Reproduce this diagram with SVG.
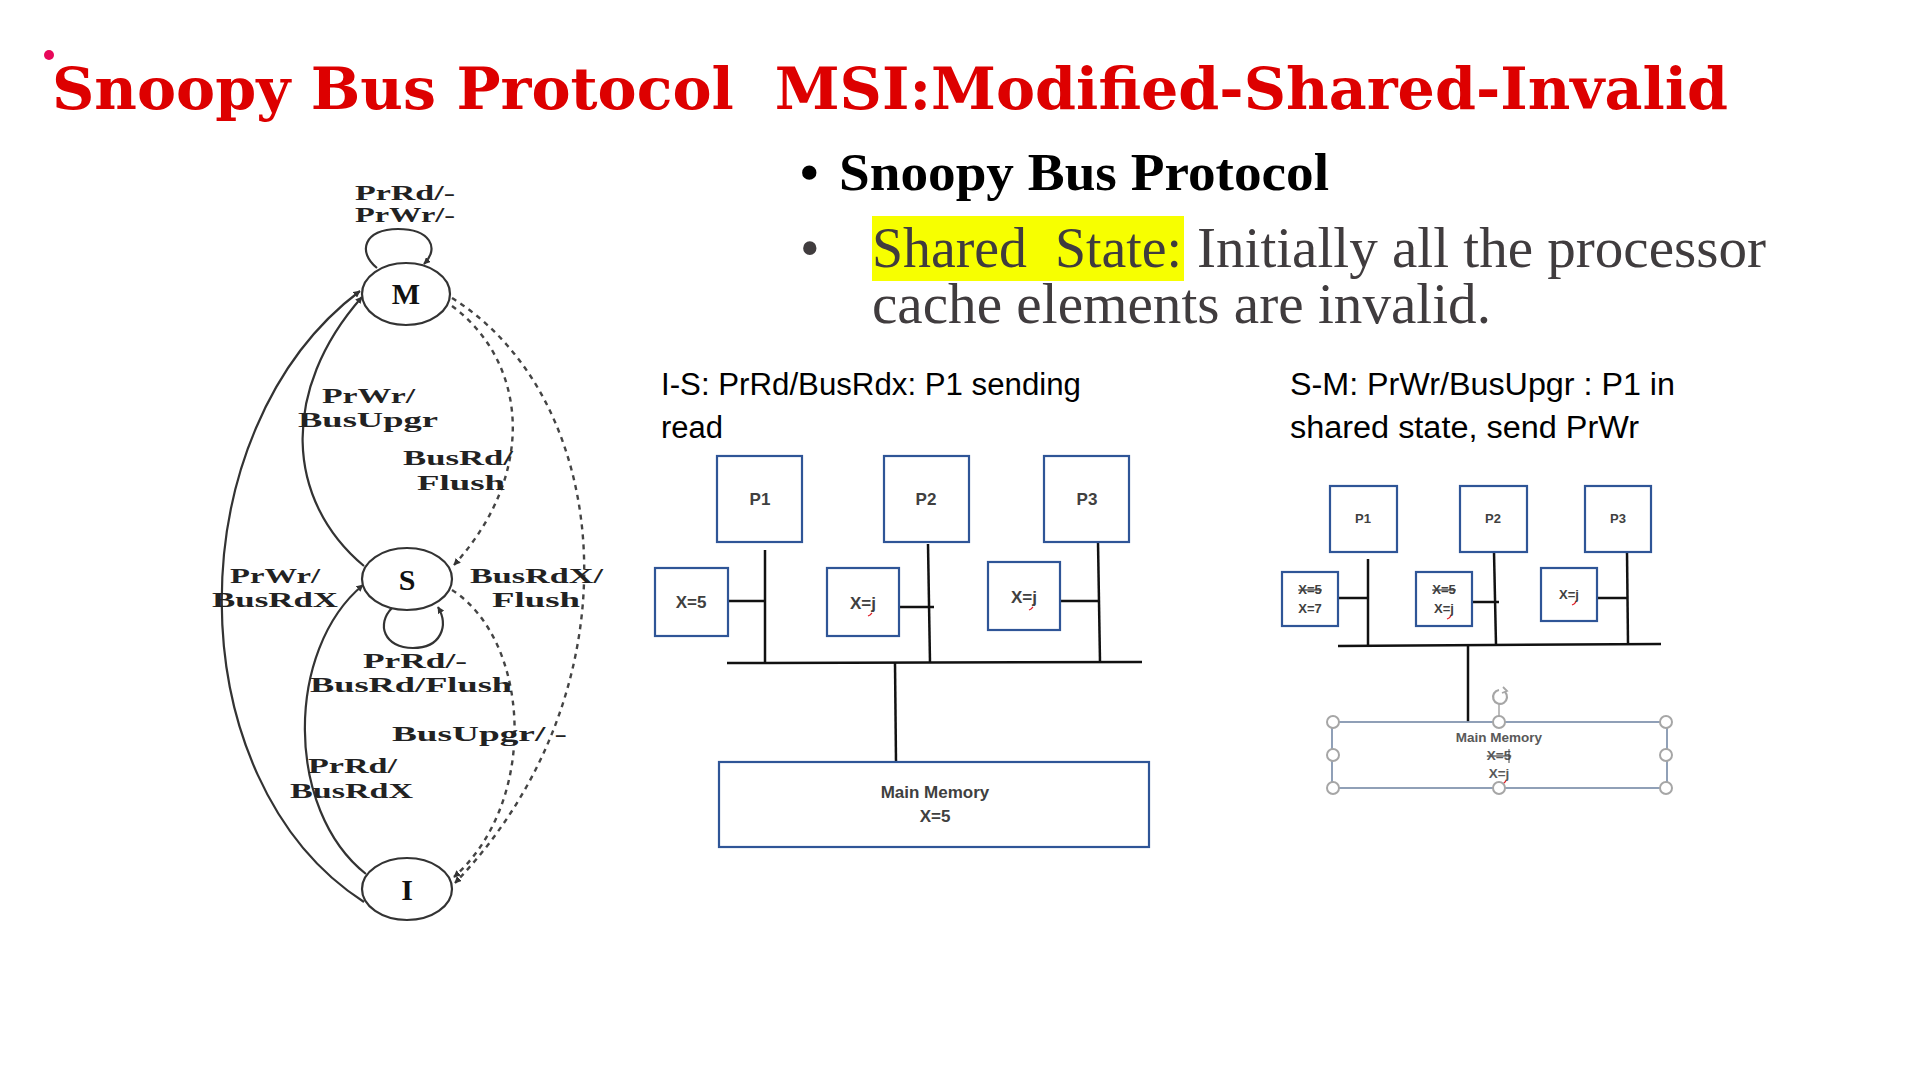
<svg xmlns="http://www.w3.org/2000/svg" width="1920" height="1080" viewBox="0 0 1920 1080">
<defs>
<style>
.title{font-family:"DejaVu Serif","Liberation Serif",serif;font-weight:bold;fill:#dd0000;font-size:58px}
.b1{font-family:"Liberation Serif",serif;font-weight:bold;fill:#000;font-size:53px}
.b2{font-family:"Liberation Serif",serif;fill:#403c3e;font-size:56px}
.st{fill:none;stroke:#333;stroke-width:2.2}
.sl{font-family:"Liberation Serif",serif;font-weight:bold;fill:#222;font-size:22px}
.sn{font-family:"Liberation Serif",serif;font-weight:bold;fill:#111;font-size:30px;text-anchor:middle}
.solid{fill:none;stroke:#333;stroke-width:2.2}
.dash{fill:none;stroke:#444;stroke-width:2.4;stroke-dasharray:5 5}
.cap{font-family:"Liberation Sans",sans-serif;fill:#000;font-size:31px}
.box{fill:#fff;stroke:#2f5597;stroke-width:2.2}
.ln{stroke:#111;stroke-width:2.5;fill:none}
.bt{font-family:"Liberation Sans",sans-serif;font-weight:bold;fill:#404040;text-anchor:middle}
.mt{font-family:"Liberation Sans",sans-serif;font-weight:bold;fill:#595959;text-anchor:middle}
.hd{fill:#fff;stroke:#a6a6a6;stroke-width:2}
.sq{fill:none;stroke:#e0202a;stroke-width:1.2}
</style>
<marker id="ah" viewBox="0 0 10 10" refX="9" refY="5" markerWidth="7" markerHeight="7" orient="auto-start-reverse" markerUnits="userSpaceOnUse">
<path d="M0,0 L10,5 L0,10 z" fill="#333"/>
</marker>
</defs>
<rect width="1920" height="1080" fill="#fff"/>

<g id="title">
<circle cx="49" cy="55" r="5" fill="#e8085a"/>
<text class="title" x="52" y="109" textLength="1676" lengthAdjust="spacingAndGlyphs" xml:space="preserve">Snoopy Bus Protocol  MSI:Modified-Shared-Invalid</text>
</g>

<g id="bullets">
<text class="b1" x="800" y="190">•</text>
<text class="b1" x="839" y="190" textLength="490" lengthAdjust="spacingAndGlyphs">Snoopy Bus Protocol</text>
<text class="b2" x="800" y="267" font-size="44">•</text>
<rect x="872" y="216" width="312" height="65" fill="#f7ff00"/>
<text class="b2" x="872" y="267" textLength="310" lengthAdjust="spacingAndGlyphs" xml:space="preserve">Shared  State:</text>
<text class="b2" x="1197" y="267" textLength="569" lengthAdjust="spacingAndGlyphs">Initially all the processor</text>
<text class="b2" x="872" y="323" textLength="619" lengthAdjust="spacingAndGlyphs">cache elements are invalid.</text>
</g>

<g id="state-M">
<ellipse class="st" cx="406" cy="294" rx="44" ry="31"/>
<text class="sn" x="406" y="304">M</text>
</g>
<g id="state-S">
<ellipse class="st" cx="407" cy="579" rx="45" ry="31"/>
<text class="sn" x="407" y="590">S</text>
</g>
<g id="state-I">
<ellipse class="st" cx="407" cy="889" rx="45" ry="31"/>
<text class="sn" x="407" y="900">I</text>
</g>

<g id="connectors">
<path class="solid" d="M377 268 C357 252 364 229 398 229 C430 229 440 248 424 264" marker-end="url(#ah)"/>
<path class="solid" d="M392 608 C376 624 384 648 413 648 C441 648 449 626 438 607" marker-end="url(#ah)"/>
<path class="solid" d="M364 902 C175 780 175 430 360 291" marker-end="url(#ah)"/>
<path class="solid" d="M364 566 C285 500 280 390 362 297" marker-end="url(#ah)"/>
<path class="solid" d="M366 874 C285 810 285 650 363 585" marker-end="url(#ah)"/>
<path class="dash" d="M452 306 C525 360 540 470 454 565" marker-end="url(#ah)"/>
<path class="dash" d="M452 298 C615 400 640 690 455 883" marker-end="url(#ah)"/>
<path class="dash" d="M452 590 C530 640 540 800 454 877" marker-end="url(#ah)"/>
</g>

<g id="transition-labels">
<text class="sl" x="355" y="200" font-size="20" textLength="100" lengthAdjust="spacingAndGlyphs">PrRd/-</text>
<text class="sl" x="355" y="222" font-size="20" textLength="100" lengthAdjust="spacingAndGlyphs">PrWr/-</text>
<text class="sl" x="322" y="403" textLength="93" lengthAdjust="spacingAndGlyphs">PrWr/</text>
<text class="sl" x="298" y="427" textLength="140" lengthAdjust="spacingAndGlyphs">BusUpgr</text>
<text class="sl" x="403" y="465" textLength="110" lengthAdjust="spacingAndGlyphs">BusRd/</text>
<text class="sl" x="417" y="490" textLength="88" lengthAdjust="spacingAndGlyphs">Flush</text>
<text class="sl" x="230" y="583" textLength="90" lengthAdjust="spacingAndGlyphs">PrWr/</text>
<text class="sl" x="212" y="607" textLength="126" lengthAdjust="spacingAndGlyphs">BusRdX</text>
<text class="sl" x="470" y="583" textLength="133" lengthAdjust="spacingAndGlyphs">BusRdX/</text>
<text class="sl" x="492" y="607" textLength="88" lengthAdjust="spacingAndGlyphs">Flush</text>
<text class="sl" x="363" y="668" textLength="104" lengthAdjust="spacingAndGlyphs">PrRd/-</text>
<text class="sl" x="310" y="692" textLength="202" lengthAdjust="spacingAndGlyphs">BusRd/Flush</text>
<text class="sl" x="392" y="741" textLength="175" lengthAdjust="spacingAndGlyphs" xml:space="preserve">BusUpgr/ -</text>
<text class="sl" x="308" y="773" textLength="89" lengthAdjust="spacingAndGlyphs">PrRd/</text>
<text class="sl" x="290" y="798" textLength="123" lengthAdjust="spacingAndGlyphs">BusRdX</text>
</g>

<g id="is-diagram">
<text class="cap" x="661" y="395" textLength="420" lengthAdjust="spacingAndGlyphs">I-S: PrRd/BusRdx: P1 sending</text>
<text class="cap" x="661" y="438">read</text>
<g id="is-lines">
<line class="ln" x1="765" y1="550" x2="765" y2="663"/>
<line class="ln" x1="728" y1="601" x2="765" y2="601"/>
<line class="ln" x1="928" y1="544" x2="930" y2="663"/>
<line class="ln" x1="896" y1="607" x2="934" y2="607"/>
<line class="ln" x1="1098" y1="542" x2="1100" y2="662"/>
<line class="ln" x1="1060" y1="601" x2="1099" y2="601"/>
<line class="ln" x1="727" y1="663" x2="1142" y2="662"/>
<line class="ln" x1="895" y1="663" x2="896" y2="762"/>
</g>
<g id="is-P1"><rect class="box" x="717" y="456" width="85" height="86"/><text class="bt" x="760" y="505" font-size="17">P1</text></g>
<g id="is-P2"><rect class="box" x="884" y="456" width="85" height="86"/><text class="bt" x="926" y="505" font-size="17">P2</text></g>
<g id="is-P3"><rect class="box" x="1044" y="456" width="85" height="86"/><text class="bt" x="1087" y="505" font-size="17">P3</text></g>
<g id="is-C1"><rect class="box" x="655" y="568" width="73" height="68"/><text class="bt" x="691" y="608" font-size="17">X=5</text></g>
<g id="is-C2"><rect class="box" x="827" y="568" width="72" height="68"/><text class="bt" x="863" y="609" font-size="17">X=j</text><path class="sq" d="M872 613 l-2 2 l-2 1"/></g>
<g id="is-C3"><rect class="box" x="988" y="562" width="72" height="68"/><text class="bt" x="1024" y="603" font-size="17">X=j</text><path class="sq" d="M1033 607 l-2 2 l-2 1"/></g>
<g id="is-Mem"><rect class="box" x="719" y="762" width="430" height="85"/><text class="bt" x="935" y="798" font-size="17">Main Memory</text><text class="bt" x="935" y="822" font-size="17">X=5</text></g>
</g>

<g id="sm-diagram">
<text class="cap" x="1290" y="395" textLength="385" lengthAdjust="spacingAndGlyphs">S-M: PrWr/BusUpgr : P1 in</text>
<text class="cap" x="1290" y="438" textLength="349" lengthAdjust="spacingAndGlyphs">shared state, send PrWr</text>
<g id="sm-lines">
<line class="ln" x1="1368" y1="559" x2="1368" y2="646"/>
<line class="ln" x1="1338" y1="598" x2="1368" y2="598"/>
<line class="ln" x1="1494" y1="552" x2="1496" y2="645"/>
<line class="ln" x1="1469" y1="602" x2="1499" y2="602"/>
<line class="ln" x1="1627" y1="552" x2="1628" y2="644"/>
<line class="ln" x1="1597" y1="598" x2="1627" y2="598"/>
<line class="ln" x1="1338" y1="646" x2="1661" y2="644"/>
<line class="ln" x1="1468" y1="646" x2="1468" y2="722"/>
</g>
<g id="sm-P1"><rect class="box" x="1330" y="486" width="67" height="66"/><text class="bt" x="1363" y="523" font-size="13">P1</text></g>
<g id="sm-P2"><rect class="box" x="1460" y="486" width="67" height="66"/><text class="bt" x="1493" y="523" font-size="13">P2</text></g>
<g id="sm-P3"><rect class="box" x="1585" y="486" width="66" height="66"/><text class="bt" x="1618" y="523" font-size="13">P3</text></g>
<g id="sm-C1"><rect class="box" x="1282" y="572" width="56" height="54"/><text class="bt" x="1310" y="594" font-size="13" text-decoration="line-through">X=5</text><text class="bt" x="1310" y="613" font-size="13">X=7</text></g>
<g id="sm-C2"><rect class="box" x="1416" y="572" width="56" height="54"/><text class="bt" x="1444" y="594" font-size="13" text-decoration="line-through">X=5</text><text class="bt" x="1444" y="613" font-size="13">X=j</text><path class="sq" d="M1451 616 l-2 2 l-2 1"/></g>
<g id="sm-C3"><rect class="box" x="1541" y="568" width="56" height="53"/><text class="bt" x="1569" y="599" font-size="13">X=j</text><path class="sq" d="M1576 602 l-2 2 l-2 1"/></g>
<g id="sm-Mem">
<rect x="1332" y="722" width="335" height="66" fill="#fff" stroke="#8496b0" stroke-width="1.8"/>
<line x1="1499" y1="703" x2="1499" y2="716" stroke="#a6a6a6" stroke-width="1.5"/>
<path d="M1505 692 A7 7 0 1 1 1499 690" fill="none" stroke="#a6a6a6" stroke-width="2.2"/>
<path d="M1503 687 l4 4 l-5 2" fill="none" stroke="#a6a6a6" stroke-width="1.8"/>
<text class="mt" x="1499" y="742" font-size="13.5">Main Memory</text>
<text class="mt" x="1499" y="760" font-size="13.5" text-decoration="line-through">X=5</text>
<line x1="1509" y1="749" x2="1509" y2="763" stroke="#404040" stroke-width="1"/>
<text class="mt" x="1499" y="778" font-size="13.5">X=j</text>
<path class="sq" d="M1506 781 l-2 2 l-2 1"/>
<circle class="hd" cx="1333" cy="722" r="6"/>
<circle class="hd" cx="1499" cy="722" r="6"/>
<circle class="hd" cx="1666" cy="722" r="6"/>
<circle class="hd" cx="1333" cy="755" r="6"/>
<circle class="hd" cx="1666" cy="755" r="6"/>
<circle class="hd" cx="1333" cy="788" r="6"/>
<circle class="hd" cx="1499" cy="788" r="6"/>
<circle class="hd" cx="1666" cy="788" r="6"/>
</g>
</g>
</svg>
